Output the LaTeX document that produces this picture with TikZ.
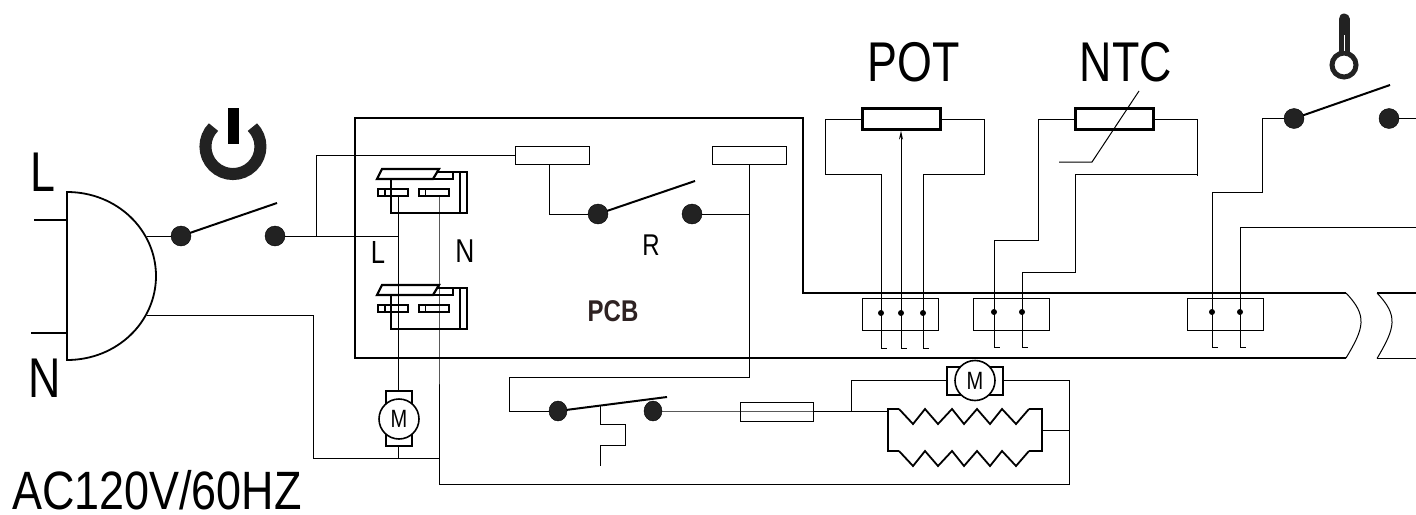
\documentclass[tikz,border=0pt]{standalone}
\usepackage{fontspec}
\setmainfont{Liberation Sans}
\usetikzlibrary{arrows.meta,calc,shapes.geometric}
\definecolor{dotgray}{HTML}{222222}
\definecolor{pcbtext}{HTML}{2E2222}

\begin{document}
\begin{tikzpicture}[x=1pt,y=-1pt,
    wire/.style={line width=1pt},
    heavy/.style={line width=2.6pt},
    blade/.style={line width=2pt},
    outline/.style={line width=1.8pt},
    swdot/.style={circle, fill=dotgray, draw=black, inner sep=0, minimum size=20pt},
    swdotb/.style={ellipse, fill=dotgray, draw=black, inner sep=0, minimum width=18pt, minimum height=20pt},
    termdot/.style={circle, fill=black, inner sep=0, minimum size=6pt},
    rbox/.style={draw, line width=1pt, inner sep=0, minimum width=74pt, minimum height=18pt},
    resbox/.style={draw, line width=2.2pt, inner sep=0, minimum width=78pt, minimum height=21pt},
    termbox/.style={draw, line width=.8pt, inner sep=0, minimum width=76pt, minimum height=32pt},
    motorbox/.style={draw, line width=2pt, fill=white, inner sep=0},
    motorcirc/.style={circle, draw, line width=1.6pt, fill=white, inner sep=0, minimum size=40pt},
    pinbox/.style={draw, line width=1.5pt, inner sep=0, minimum width=30pt, minimum height=7pt},
    lbl/.style={font=\fontsize{#1}{#1}\selectfont, inner sep=0, xscale=.8, transform shape},
    ]
    \useasboundingbox (0,0) rectangle (1416,514);

    % housing
    \draw[heavy] (1346,293) -- (803,293) -- (803,118) -- (355,118) -- (355,358) -- (1346,358);
    \draw[heavy] (1416,293) -- (1377,293);
    \draw[wire] (1416,358.5) -- (1377,358.5);
    \draw[wire] (1346,293) .. controls (1368,316) and (1364,328) .. (1346,358);
    \draw[wire] (1377,293) .. controls (1399,316) and (1395,328) .. (1377,358.5);

    % plug
    \draw[outline] (67,192) .. controls (117,192) and (156,230) .. (156,276)
        .. controls (156,322) and (117,360) .. (67,360) -- cycle;
    \coordinate (plugl) at (67,220);
    \coordinate (plugn) at (67,333);
    \coordinate (plugout) at (147,236);
    \coordinate (plugret) at (147,315.5);
    \draw[outline] (plugl) -- ++(-33,0);
    \draw[outline] (plugn) -- ++(-36,0);

    % power symbol
    \draw[line width=12pt, color=dotgray] (252.4,127.1) arc[start angle=45, end angle=-225, radius=27.5pt];
    \draw[line width=11pt, color=black] (233.5,108) -- (233.5,144);

    % thermometer
    \draw[line width=11pt, line cap=round, color=dotgray] (1344,19) -- (1344,55);
    \node[circle, draw, line width=5pt, color=dotgray, fill=white, inner sep=0, minimum size=24pt] (bulb) at (1344,65) {};
    \coordinate (slit) at (1344,35);
    \draw[line width=1pt, white] (slit) -- (bulb.north);

    % wall boxes and resistors
    \node[rbox] (relayl) at (552,155) {};
    \node[rbox] (relayr) at (749,155) {};
    \node[resbox] (pot) at (901.5,119) {};
    \node[resbox] (ntc) at (1114.5,119) {};
    \foreach \n/\x in {terma/900.5, termb/1011, termc/1225}
        \node[termbox] (\n) at (\x,314) {};

    % switch contacts
    \foreach \n/\x/\y/\tx/\ty in {swa/181/236/277/203, swc/598/214/695/181, swe/1294/118.5/1390/85}{
        \coordinate (\n tip) at (\tx,\ty);
        \draw[blade] (\x,\y) -- (\n tip);
    }
    \coordinate (swgtip) at (667,397);
    \draw[blade] (558,411) -- (swgtip);

    % terminals
    \foreach \n/\x/\y in {pa/881/313, pb/901/313, pc/923/313, na/994/312, nb/1022/312, ta/1212/312, tb/1240/312}{
        \node[termdot] (\n) at (\x,\y) {};
        \coordinate (\n e) at (\x+6,\y+35);
    }

    % sockets
    \foreach \k/\dy in {1/0, 2/116}{
    \begin{scope}[shift={(0,\dy)}]
        \draw[line width=2.2pt, fill=white] (377,179) -- (382,169) -- (439,169) -- (433,179) -- cycle;
        \draw[line width=1.5pt] (437,172) -- (467,172) -- (467,213) -- (391,213) -- (391,179);
        \draw[line width=1.5pt] (453,172) -- (453,179) -- (433,179);
        \draw[line width=1.5pt] (460,172) -- (460,213);
        \node[pinbox] (sl\k) at (393,192.5) {};
        \node[pinbox] (sn\k) at (434,192.5) {};
        \draw[line width=1.5pt] (385,189) -- (385,196);
        \draw[line width=1.5pt] (425.5,189) -- (425.5,196);
        \coordinate (wl\k) at (398.5,196);
        \coordinate (wn\k) at (439,196);
    \end{scope}
    }

    % motors
    \node[motorbox, minimum width=26pt, minimum height=55pt] (fanbox) at (399,418.5) {};
    \node[motorbox, minimum width=56pt, minimum height=28pt] (blowbox) at (975,380.5) {};
    \coordinate (retj) at (439,458);

    % dots
    \node[swdot] (swa) at (181,236) {};
    \node[swdot] (swb) at (275,236) {};
    \node[swdot] (swc) at (598,214) {};
    \node[swdot] (swd) at (692,214) {};
    \node[swdot] (swe) at (1294,118.5) {};
    \node[swdot] (swf) at (1389,118.5) {};
    \node[swdotb] (swg) at (558,411) {};
    \node[swdotb] (swh) at (653,411) {};

    % fuse and heater
    \node[draw, line width=.8pt, inner sep=0, minimum width=73pt, minimum height=19pt] (fuse) at (776.5,412) {};
    \coordinate (heatl) at (888,411);
    \coordinate (heatr) at (1042,430);
    \draw[heavy] (899,409) -- (888,409) -- (888,451) -- (899,451);
    \draw[heavy] (1029,409) -- (1042,409) -- (1042,451) -- (1029,451);
    \draw[outline] (899,409) -- (913,424) -- (925,409) -- (938,424) -- (952,409) -- (964,424) -- (977,409)
        -- (990,424) -- (1002,409) -- (1016,424) -- (1029,409);
    \draw[outline] (899,451) -- (913,466) -- (925,451) -- (938,466) -- (952,451) -- (964,466) -- (977,451)
        -- (990,466) -- (1002,451) -- (1016,466) -- (1029,451);

    % wiring
    \coordinate (jl) at (316,236);
    \coordinate (relj) at (549,164);
    \draw[wire] (plugout) -- (swa);
    \draw[wire] (swb) -- (swb -| wl1);
    \draw[wire] (jl) |- (relayl.west);
    \draw[wire] (wl1) -- (fanbox.north -| wl1);
    \draw[wire] (wn1) -- (wn2) -- (retj);
    \draw[wire] (plugret) -| (313,458) -- (retj);
    \draw[wire] (fanbox.south -| wl1) -- (wl1 |- retj);
    \draw[wire] (retj) |- (1069,484) |- (blowbox.east);
    \draw[wire] (relj) |- (swc);
    \draw[wire] (swd) -- (749,214);
    \draw[wire] (relayr.south) |- (509,377) |- (swg);
    \draw[wire] (swh) -- (fuse.west |- swh) -- (heatl);
    \draw[wire] (851,411) |- (blowbox.west);
    \draw[wire] (heatr) -- (1069,430);
    \draw[wire] (600,405) -- (600,424) -- (625,424) -- (625,445) -- (600,445) -- (600,466);
    \draw[wire] (pot.west) -- ++(-36,0) -- ++(0,55) -| (pa.center) |- (pae);
    \draw[wire, {Stealth[length=9pt,width=4pt]}-] (pot.south -| pb.center) |- (pbe);
    \draw[wire] (pot.east) -- ++(43,0) -- ++(0,55) -| (pc.center) |- (pce);
    \draw[wire] (ntc.west) -- ++(-36,0) -- ++(0,121) -| (na.center) |- (nae);
    \draw[wire] (ntc.east) -- ++(43,0) -- ++(0,57);
    \draw[wire] (1197,174) -- (1075,174) -- (1075,272) -| (nb.center) |- (nbe);
    \draw[wire] (1139,91) -- (1092,162) -- (1059,162);
    \draw[wire] (swe) -- ++(-32,0) -- ++(0,73.5) -| (ta.center) |- (tae);
    \draw[wire] (swf) -- ++(27,0);
    \draw[wire] (1416,227) -| (tb.center) |- (tbe);

    \node[motorcirc] (fan) at (399,419) {};
    \node[motorcirc] (blow) at (975,380.5) {};
    \node[lbl=25] (fanm) at (fan) {M};
    \node[lbl=25] (blowm) at (blow) {M};

    % labels
    \node[lbl=56] (lbll) at (43,172) {L};
    \node[lbl=56] (lbln) at (45,378) {N};
    \node[lbl=56] (lblpot) at (914,62) {POT};
    \node[lbl=56] (lblntc) at (1126,62) {NTC};
    \node[lbl=54, xscale=1.04, anchor=base] (lblac) at (157,509) {AC120V/60HZ};
    \node[lbl=32] (lblil) at (378,252.5) {L};
    \node[lbl=33] (lblin) at (465,251) {N};
    \node[lbl=30] (lblr) at (651,245) {R};
    \node[lbl=30, text=pcbtext] (lblpcb) at (613,311) {\bfseries PCB};
\end{tikzpicture}
\end{document}
